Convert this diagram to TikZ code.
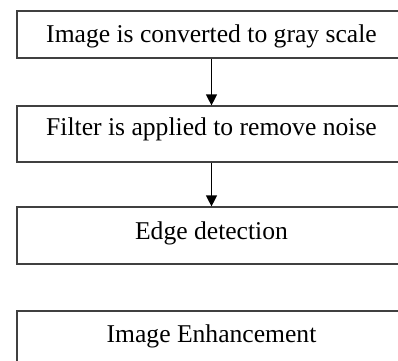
\documentclass[tikz,border=0pt]{standalone}
\usepackage{fontspec}
\setmainfont{Liberation Serif}
\usetikzlibrary{arrows.meta, positioning}

\begin{document}
\begin{tikzpicture}[x=1pt,y=-1pt,->,>={Triangle[length=11pt,width=11pt]},line width=1.2pt,stepbox/.style={rectangle, draw=black!75, minimum width=389pt, inner sep=0pt, text height=17pt, font=\fontsize{25.6}{30}\selectfont}]
		\useasboundingbox (0,0) rectangle (398,360);
		\clip (0,0) rectangle (398,360);
		\node[stepbox, minimum height=47pt, text depth=2pt	] (GRAY) 	at (211.5,34.5)	{Image is converted to gray scale};
		\node[stepbox, minimum height=56pt, text depth=14pt	] (FILTER)	at (211.5,134)	{Filter is applied to remove noise};
		\node[stepbox, minimum height=57pt, text depth=9pt	] (EDGE)	at (211.5,235.5)	{Edge detection};
		\node[stepbox, minimum height=56pt, text depth=11pt	] (ENHANCE)	at (211.5,339)	{Image Enhancement};

		\draw	(GRAY)		edge[line width=1.2pt]	(FILTER)
				(FILTER)	edge[line width=1.2pt]	(EDGE)
				;
	\end{tikzpicture}
\end{document}
